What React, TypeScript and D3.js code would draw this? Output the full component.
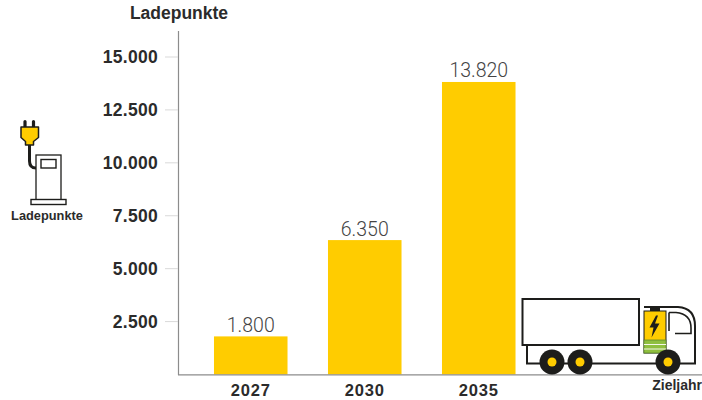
import React from "react";
import * as d3 from "d3";

const years = ["2027", "2030", "2035"];
const chargePoints = [1800, 6350, 13820];
const valueLabels = ["1.800", "6.350", "13.820"];
const yTicks = [2500, 5000, 7500, 10000, 12500, 15000];
const tickLabels = ["2.500", "5.000", "7.500", "10.000", "12.500", "15.000"];

const YELLOW = "#ffcc00";
const GREEN = "#8fbf3f";
const INK = "#1d1d1b";
const FONT = "'Liberation Sans', Arial, sans-serif";

const y = d3.scaleLinear().domain([0, 15000]).range([374.5, 57]);
const x = d3.scaleBand().domain(years).range([193.75, 535.75]).paddingInner(0.355).paddingOuter(0.1775);

// Charging column with its plug, left of the value axis
function ChargerIcon() {
  return (
    <g fill="none" stroke={INK}>
      <path d="M25 127V121.5M33.5 127V121.5" strokeWidth={3.2} strokeLinecap="round" />
      <path
        d="M21 127H38.5V137.5L33.5 141.5V145H25.5V141.5L21 137.5Z"
        fill={YELLOW}
        strokeWidth={1.5}
        strokeLinejoin="round"
      />
      <path d="M29.5 145V161Q29.5 168 36 168" strokeWidth={3} />
      <rect x={36} y={155} width={25} height={45} strokeWidth={1.3} fill="#fff" />
      <rect x={41} y={159.5} width={15} height={8.5} strokeWidth={1.4} />
      <rect x={31} y={199.5} width={35} height={5} strokeWidth={1.4} fill="#fff" />
    </g>
  );
}

// Electric lorry standing on the baseline at the end of the category axis
function TruckIcon() {
  const wheels = [552, 580, 668];
  return (
    <g>
      <path
        d="M644 307H678Q695 308 695 326V363.5H527V345"
        fill="none"
        stroke={INK}
        strokeWidth={2}
      />
      <rect x={522.5} y={299} width={116.5} height={46} fill="#fff" stroke={INK} strokeWidth={2} />
      <path d="M669 312.5V331M669 312.5H676Q691 314 691 328V333.5H675" fill="none" stroke={INK} strokeWidth={1.6} />
      <rect x={644} y={311} width={22} height={42} fill={YELLOW} stroke={INK} strokeWidth={1} />
      <rect x={650} y={307.5} width={10} height={3.5} fill={INK} />
      <rect x={644} y={340} width={22} height={13} fill={GREEN} stroke="#5e8a2a" strokeWidth={0.8} />
      <path d="M644 344.5H666M644 349H666" stroke="#f4f7e8" strokeWidth={1} />
      <path d="M656 315.5L649.5 327.5H653.5L651.5 337.5L659.5 323.5H655L658 315.5Z" fill={INK} />
      {wheels.map((cx) => (
        <g key={cx}>
          <circle cx={cx} cy={362} r={12.5} fill={INK} />
          <circle cx={cx} cy={362} r={4.5} fill={YELLOW} />
        </g>
      ))}
    </g>
  );
}

export default function App() {
  return (
    <svg
      width={702}
      height={400}
      viewBox="0 0 702 400"
      style={{ position: "absolute", left: 0, top: 0, background: "#fff", fontFamily: FONT }}
    >
      {chargePoints.map((v, i) => (
        <rect
          key={years[i]}
          x={x(years[i])}
          y={y(v)}
          width={x.bandwidth()}
          height={y(0) - y(v)}
          fill={YELLOW}
        />
      ))}
      {chargePoints.map((v, i) => (
        <text
          key={years[i]}
          x={x(years[i])! + x.bandwidth() / 2}
          y={y(v) - 4.5}
          textAnchor="middle"
          fontSize={19.5}
          fontFamily="Roboto, sans-serif"
          fontWeight={300}
          fill="#444"
        >
          {valueLabels[i]}
        </text>
      ))}

      <line x1={178.5} x2={178.5} y1={31} y2={375} stroke="#8c8c8c" strokeWidth={1.2} />
      <line x1={178} x2={702} y1={374.8} y2={374.8} stroke="#8c8c8c" strokeWidth={1.2} />

      {yTicks.map((t, i) => (
        <g key={t}>
          <line x1={165} x2={178} y1={y(t)} y2={y(t)} stroke="#d9d9d9" strokeWidth={1} />
          <text x={158} y={y(t) + 6} textAnchor="end" fontSize={17.5} fontWeight={700} letterSpacing={0.3} fill="#2b2b2b">
            {tickLabels[i]}
          </text>
        </g>
      ))}

      {years.map((yr) => (
        <text
          key={yr}
          x={x(yr)! + x.bandwidth() / 2}
          y={396.2}
          textAnchor="middle"
          fontSize={16.5}
          fontWeight={700}
          letterSpacing={0.8}
          fill="#2b2b2b"
        >
          {yr}
        </text>
      ))}

      <text x={179} y={19} textAnchor="middle" fontSize={17.5} fontWeight={700} fill="#2b2b2b">
        Ladepunkte
      </text>
      <text x={47} y={220} textAnchor="middle" fontSize={12.8} fontWeight={700} fill="#2b2b2b">
        Ladepunkte
      </text>
      <text x={702} y={390} textAnchor="end" fontSize={14} fontWeight={700} fill="#2b2b2b">
        Zieljahr
      </text>

      <ChargerIcon />
      <TruckIcon />
    </svg>
  );
}
